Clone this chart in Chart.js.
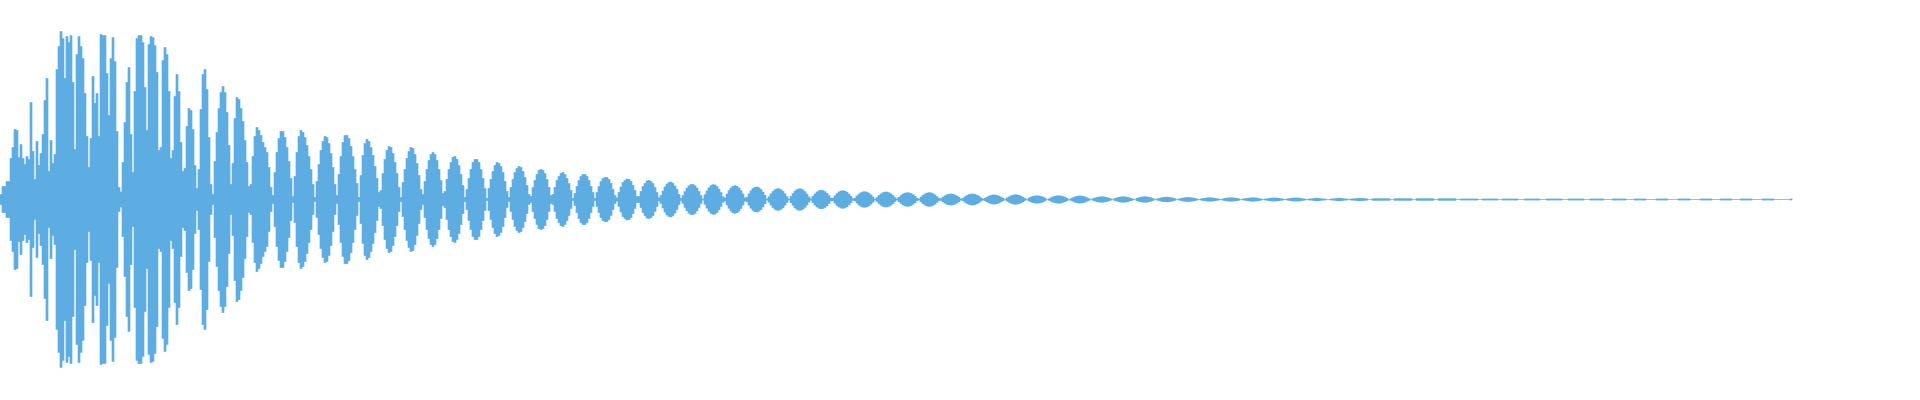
<!DOCTYPE html>
<html>
<head>
<meta charset="utf-8">
<script src="https://cdn.jsdelivr.net/npm/chart.js@4/dist/chart.umd.min.js"></script>
<style>
  html, body { margin: 0; padding: 0; background: #ffffff; }
  #wrap { width: 1920px; height: 400px; position: relative; }
</style>
</head>
<body>
<div id="wrap"><canvas id="c"></canvas></div>
<script>
// Waveform peak amplitude per time bin (drawn symmetric around zero).
const onsetAmplitude = [
  5,13,13,18,18,41,52,70,69,42,55,41,35,43,40,97,48,20,58,34,
  46,65,99,121,28,59,36,45,130,153,168,161,121,163,157,164,117,50,145,163,
  153,141,106,63,32,61,123,96,106,63,165,164,164,126,84,141,162,138,68,12,
  7.5,37,77,117,132,65,27,108,161,164,164,157,112,69,155,163,162,154,127,49,
  52,139,152,145,108,41,49,103,125,108,57,28,31,73,91,89,70,34,11,30
];
const attackLobes = [
  90,125,130,110,62,15,5,
  38,67,91,107,113,107,87,54,15,
  36,81,102,100,91,78,59,37,13,
  15,43,63,72,69,64,57,52,47,32,12,4,
  27,47,61,68,68,62,52,38,21,3,
  23,47,63,69,67,62,54,43,30,15,2,
  18,35,49,58,63,62,56,46,32,15,
  4,25,43,57,64,64,61,53,43,30,16,2,
  24,44,56,60,58,52,44,33,21,7,
  9,26,40,49,53,52,46,37,26,12
];
const decayLobes = [
  2,17,30,41,48,52,51,45,36,24,10,
  5,18,30,39,45,47,45,39,30,19,6,
  8,20,30,37,42,43,40,34,25,14,2,
  10,21,30,37,40,40,37,30,21,11,
  1,11,20,28,34,37,36,33,27,18,8,
  2,12,20,27,31,33,32,28,22,14,5,
  3,12,19,25,29,30,29,26,20,12,4,
  5,12,19,23,26,27,25,21,16,9,1,
  6,13,19,23,25,25,23,19,13,7,
  1,7,13,18,21,22,22,20,16,10,4,
  1.5,7,12.5,17,19,20.5,20,18,14,9,3,
  3,8,13,16,18.5,19,18,16,12,7,1.6,
  4,8.5,12.6,15.5,17,17.4,16,13.5,10,5,1,
  3.8,7.9,11.3,13.7,15,15,13.8,11.4,8,4,
  0.5,4.8,8.6,11.7,13.8,14.8,14.5,13,10.4,6.9,2.8,
  1.5,5.4,8.8,11.5,13.2,13.8,13.2,11.6,8.9,5.5,1.6,
  2.3,5.7,8.7,10.9,12.2,12.5,11.7,10,7.4,4.2,0.6,
  2.7,5.6,8,9.8,10.7,10.7,9.8,8.1,5.7,2.8,
  0.5,3.1,5.9,8.3,9.9,10.7,10.6,9.6,7.8,5.4,2.5,
  0.7,3.3,5.6,7.5,8.7,9.2,8.9,7.9,6.2,4,1.4,
  1.3,3.7,5.9,7.5,8.5,8.8,8.3,7.2,5.4,3.2,0.7,
  1.4,3.6,5.4,6.8,7.6,7.8,7.3,6.2,4.6,2.6,0.5,
  1.9,3.9,5.6,6.8,7.4,7.4,6.8,5.6,4,2,
  0.5,2.2,3.9,5.4,6.3,6.8,6.6,6,4.8,3.2,1.3,
  0.5,2.4,4.1,5.5,6.4,6.8,6.6,5.8,4.6,2.9,1.1,
  0.8,2.3,3.7,4.7,5.3,5.5,5.2,4.5,3.4,2,0.5,
  1.2,2.7,3.9,4.9,5.4,5.5,5.1,4.3,3.1,1.6,0.5,
  1.1,2.3,3.3,4.1,4.5,4.5,4.1,3.4,2.4,1.2,
  0,1.5,2.7,3.7,4.4,4.7,4.6,4.1,3.3,2.2,0.9,
  0,1.4,2.4,3.1,3.5,3.7,3.5,3.1,2.4,1.5,0,
  0.7,1.7,2.6,3.2,3.6,3.7,3.5,2.9,2.2,1.2,0,
  0.9,1.8,2.6,3.2,3.5,3.5,3.2,2.6,1.8,0.9,
  0,0.8,1.5,2.1,2.5,2.7,2.7,2.4,2,1.3,0.6,
  0,1,1.6,2.2,2.6,2.7,2.6,2.3,1.8,1.2,0.5,
  0,1.1,1.8,2.3,2.6,2.7,2.6,2.2,1.7,1,0,
  0.5,1,1.6,2,2.2,2.3,2.2,1.8,1.4,0.8,0,
  0.5,1,1.5,1.8,2,2,1.8,1.5,1.1,0.5,
  0,0.5,1,1.3,1.6,1.7,1.7,1.5,1.2,0.8,0.5,
  0,0.7,1.1,1.4,1.6,1.7,1.6,1.4,1.1,0.7,0,
  0.5,0.7,1.1,1.4,1.6,1.7,1.6,1.4,1,0.6,0,
  0.5,0.7,1.1,1.3,1.5,1.5,1.4,1.2,0.8,0.5,0,
  0.5,0.8,1.1,1.4,1.5,1.5,1.4,1.1,0.8,0.5
];
const tailAmplitude = [
  0,
  0.5,0.6,0.8,1.1,1.3,1.1,0.8,0.6,0.5,
  0,0,
  0.5,0.6,0.8,1.1,1.3,1.1,0.8,0.6,0.5,
  0,
  0.5,0.6,0.8,1,1.2,1.2,1,0.8,0.6,
  0,0,
  0.8,0.8,0.8,0.8,0.8,0.8,0.8,0.8,0.8,
  0,0,
  0.8,0.8,0.8,0.8,0.8,0.8,0.8,0.8,0.8,
  0,0,
  0.8,0.8,0.8,0.8,0.8,0.8,0.8,0.8,0.8,
  0,0,
  0.8,0.8,0.8,0.8,0.8,0.8,0.8,0.8,0.8,
  0,0,
  0.5,0.5,0.5,0.5,0.5,0.5,0.5,0.5,0.5,
  0,0,
  0.5,0.5,0.5,0.5,0.5,0.5,0.5,0.5,
  0,0,
  0.5,0.5,0.5,0.5,0.5,0.5,0.5,0.5,
  0,0,0,
  0.5,0.5,0.5,0.5,0.5,0.5,0.5,0.5,
  0,0,0,
  0.5,0.5,0.5,0.5,0.5,0.5,0.5,0.5,
  0,0,0,
  0.5,0.5,0.5,0.5,0.5,0.5,0.5,0.5,
  0,0,0,
  0.5,0.5,0.5,0.5,0.5,0.5,0.5,
  0,0,0,0,
  0.5,0.5,0.5,0.5,0.5,0.5,0.5,
  0,0,0,0,
  0.5,0.5,0.5,0.5,0.5,0.5,
  0,0,0,0,0,
  0.5,0.5,0.5,0.5,0.5,0.5,
  0,0,0,0,0,
  0.5,0.5,0.5,0.5,0.5,0.5,
  0,0,0,0,0,
  0.5,0.5,0.5,0.5,0.5,0.5,
  0,0,0,0,
  0.5,0.5,0.5,0.5,0.5,0.5,
  0,0,0,0,
  0.5,0.5,0.5,0.5,0.5,0.5,
  0,0,0,0,0,
  0.5,0.5,0.5,0.5,0.5,0.5,
  0,0,0,0,0,0,0,0,
  0.5
];
const binCount = 960; // number of time bins across the canvas

const amplitude = onsetAmplitude.concat(attackLobes, decayLobes, tailAmplitude);
const labels = Array.from({ length: binCount }, (_, i) => String(i));
const bars = amplitude.map(a => [-a, a]);

new Chart(document.getElementById('c'), {
  type: 'bar',
  data: {
    labels: labels,
    datasets: [{
      data: bars,
      backgroundColor: '#5DADE2',
      borderWidth: 0,
      borderSkipped: false,
      barPercentage: 1,
      categoryPercentage: 1
    }]
  },
  options: {
    responsive: true,
    maintainAspectRatio: false,
    animation: false,
    events: [],
    layout: { padding: 0 },
    plugins: { legend: { display: false }, tooltip: { enabled: false } },
    scales: {
      x: { display: false, grid: { display: false } },
      y: { display: false, min: -200.5, max: 199.5, grid: { display: false } }
    }
  }
});
</script>
</body>
</html>
